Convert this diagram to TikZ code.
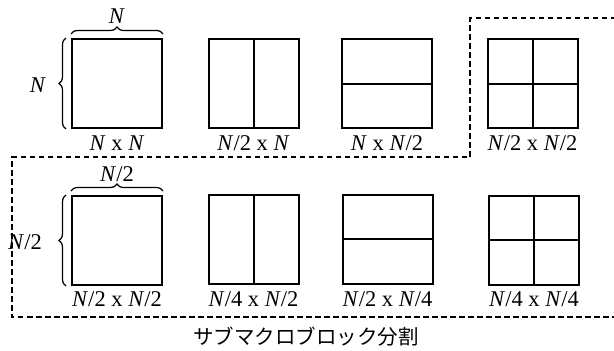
\documentclass[tikz,border=0pt]{standalone}
\usepackage{fontspec}
\setmainfont{Liberation Serif}
\newfontfamily\cjk{Noto Sans CJK JP}
\usetikzlibrary{decorations.pathreplacing}
\begin{document}
\begin{tikzpicture}[x=1pt,y=-1pt,
  blk/.style={draw,line width=2pt,minimum width=90pt,minimum height=89pt,inner sep=0pt},
  div/.style={line width=2pt},
  lbl/.style={font=\fontsize{22.5}{24}\selectfont,inner sep=0pt},
  dashline/.style={line width=1.5pt,dash pattern=on 5.5pt off 3.5pt},
  brc/.style={decorate,decoration={brace,amplitude=7pt},line width=1.2pt}]
\useasboundingbox (0,0) rectangle (614,351);
% top row
\node[blk] (a1) at (117,83.5) {};
\node[blk] (a2) at (253.5,83.5) {};
\node[blk] (a3) at (387,83.5) {};
\node[blk] (a4) at (532.5,83.5) {};
\draw[div] (a2.north) -- (a2.south);
\draw[div] (a3.west) -- (a3.east);
\draw[div] (a4.north) -- (a4.south);
\draw[div] (a4.west) -- (a4.east);
\node[lbl] (la1) at (117,143) {\textit{N} x \textit{N}};
\node[lbl] (la2) at (253.5,143) {\textit{N}/2 x \textit{N}};
\node[lbl] (la3) at (387,143) {\textit{N} x \textit{N}/2};
\node[lbl] (la4) at (532.5,143) {\textit{N}/2 x \textit{N}/2};
% bottom row
\node[blk] (b1) at (117,240.5) {};
\node[blk] (b2) at (253.5,239) {};
\node[blk] (b3) at (387.5,239) {};
\node[blk] (b4) at (534,240) {};
\draw[div] (b2.north) -- (b2.south);
\draw[div] (b3.west) -- (b3.east);
\draw[div] (b4.north) -- (b4.south);
\draw[div] (b4.west) -- (b4.east);
\node[lbl] (lb1) at (117,299) {\textit{N}/2 x \textit{N}/2};
\node[lbl] (lb2) at (253.5,299) {\textit{N}/4 x \textit{N}/2};
\node[lbl] (lb3) at (387.5,299) {\textit{N}/2 x \textit{N}/4};
\node[lbl] (lb4) at (534,299) {\textit{N}/4 x \textit{N}/4};
% braces
\draw[brc] ([yshift=4pt]a1.north west) -- ([yshift=4pt]a1.north east);
\draw[brc] ([xshift=-5pt]a1.south west) -- ([xshift=-5pt]a1.north west);
\node[lbl] (na) at (117,16) {\textit{N}};
\node[lbl] (nb) at (38,85) {\textit{N}};
\draw[brc] ([yshift=4pt]b1.north west) -- ([yshift=4pt]b1.north east);
\draw[brc] ([xshift=-5pt]b1.south west) -- ([xshift=-5pt]b1.north west);
\node[lbl] (nc) at (117,174) {\textit{N}/2};
\node[lbl] (nd) at (25,242) {\textit{N}/2};
% dashed region
\coordinate (d1) at (616,18);
\coordinate (d2) at (470,18);
\coordinate (d3) at (470,157);
\coordinate (d4) at (12,157);
\coordinate (d5) at (12,317);
\coordinate (d6) at (616,317);
\draw[dashline] (d1) -- (d2) -- (d3) -- (d4) -- (d5) -- (d6);
% caption
\node[font=\cjk\fontsize{20.5}{22}\selectfont,inner sep=0pt] (cap) at (306,337) {サブマクロブロック分割};
\end{tikzpicture}
\end{document}
